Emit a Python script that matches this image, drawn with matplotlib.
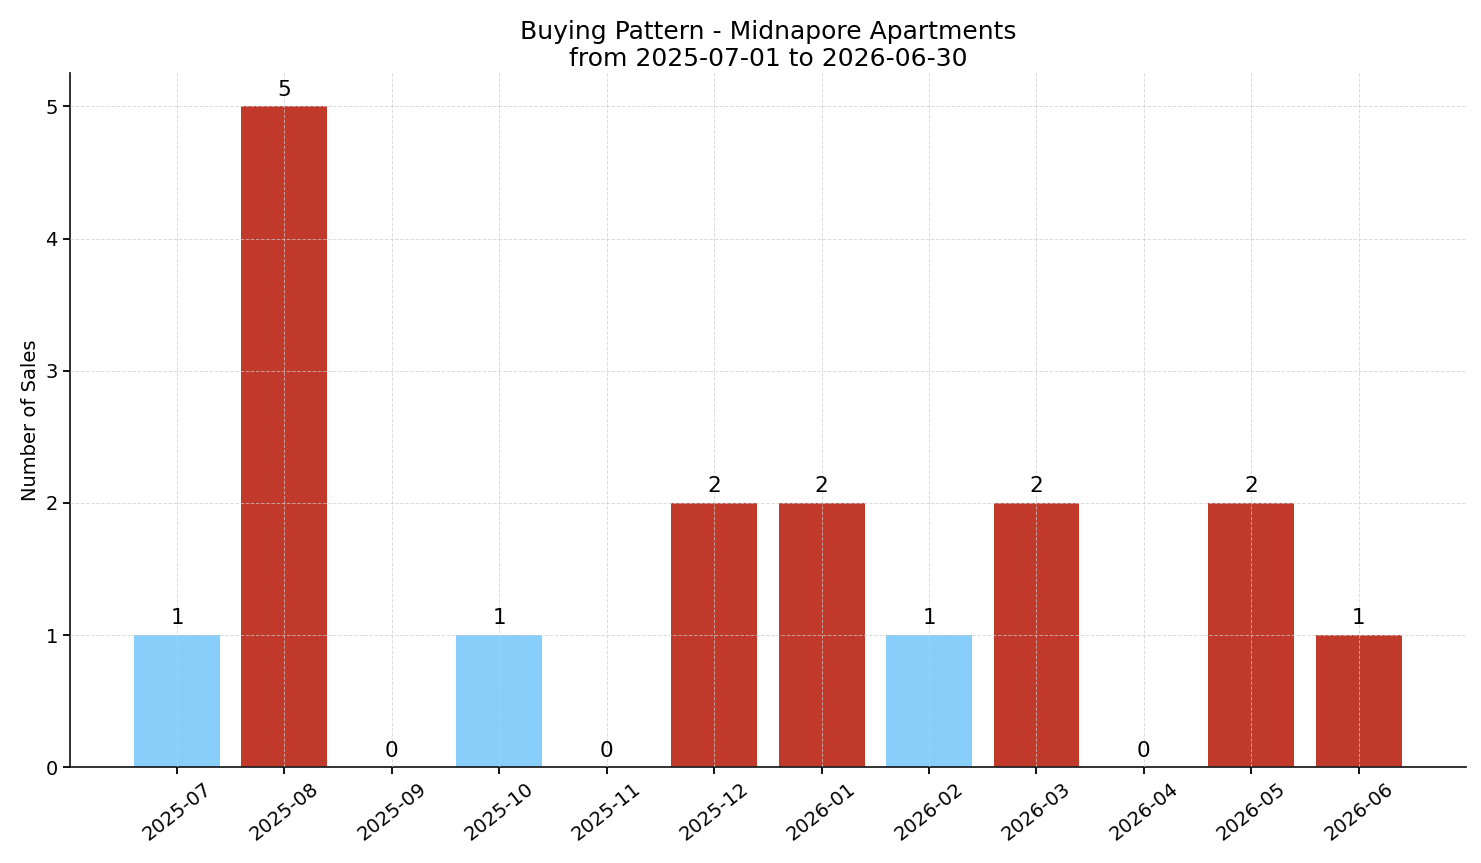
import matplotlib.pyplot as plt

# monthly sales counts
months = ['2025-07', '2025-08', '2025-09', '2025-10', '2025-11', '2025-12',
          '2026-01', '2026-02', '2026-03', '2026-04', '2026-05', '2026-06']
sales = [1, 5, 0, 1, 0, 2, 2, 1, 2, 0, 2, 1]
# which months are highlighted in red
hot = [False, True, False, False, False, True, True, False, True, False, True, True]

colors = ['#c0392b' if h else '#87cefa' for h in hot]

fig, ax = plt.subplots(figsize=(14.81, 8.63), dpi=100)
x = range(len(months))
bars = ax.bar(x, sales, color=colors, width=0.8)

for b, s in zip(bars, sales):
    ax.text(b.get_x() + b.get_width() / 2, s + 0.05, str(s),
            ha='center', va='bottom', fontsize=15.5)

ax.set_xticks(list(x))
ax.set_xticklabels(months, rotation=38, fontsize=14)
ax.tick_params(axis='y', labelsize=14)
ax.tick_params(width=1.3, length=5)
ax.set_xlim(-1, 12)
ax.set_ylim(0, 5.25)
ax.set_ylabel('Number of Sales', fontsize=14)
ax.set_title('Buying Pattern - Midnapore Apartments\nfrom 2025-07-01 to 2026-06-30',
             fontsize=18, pad=5)
ax.set_axisbelow(False)
ax.grid(True, linestyle='--', color='#cccccc', linewidth=0.7, alpha=0.7)
ax.spines['top'].set_visible(False)
ax.spines['right'].set_visible(False)
for sp in ['left', 'bottom']:
    ax.spines[sp].set_linewidth(1.3)
    ax.spines[sp].set_color('#222222')

fig.subplots_adjust(left=0.047, right=0.99, top=0.915, bottom=0.111)
fig.savefig('out.png', dpi=100)
